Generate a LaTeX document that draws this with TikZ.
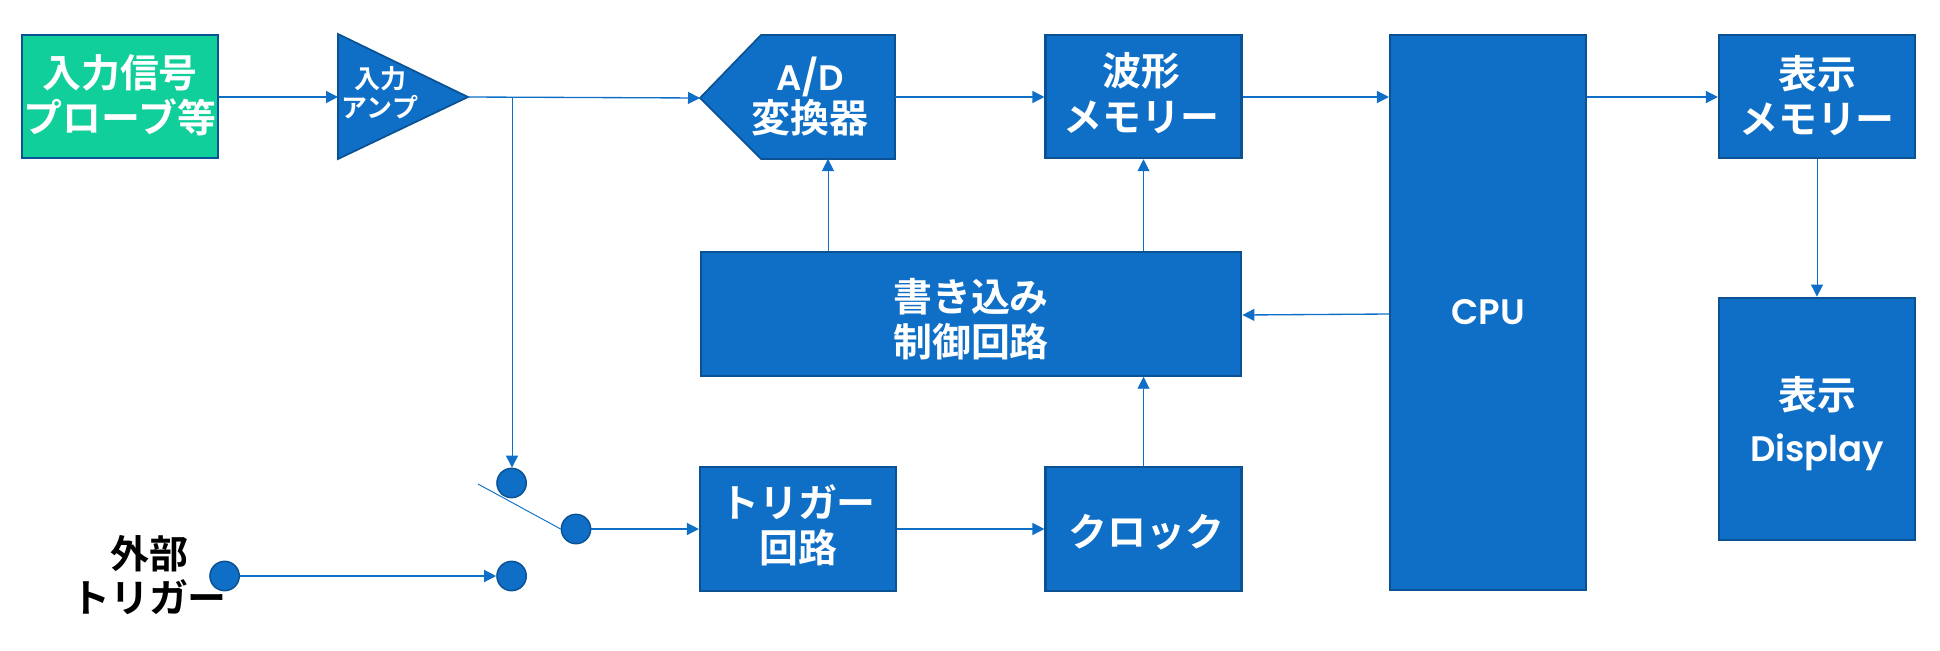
\documentclass[tikz,border=0pt]{standalone}
\usepackage{fontspec}
\setmainfont{Noto Sans CJK JP}[BoldFont={Noto Sans CJK JP Bold}]
\newfontfamily\latn{Poppins}[Scale=0.91,BoldFont={Poppins SemiBold}]
\usetikzlibrary{arrows.meta,calc}
\definecolor{blk}{HTML}{0F6FC6}
\definecolor{edg}{HTML}{0B5294}
\definecolor{grn}{HTML}{10CF9B}
\tikzset{
  x=0.75pt,y=-0.75pt,
  bx/.style={draw=edg,fill=blk,line width=1.6pt,inner sep=0pt},
  shp/.style={draw=edg,fill=blk,line width=1.3pt,line join=miter},
  lbl/.style={text=white,align=center,inner sep=0pt,font=\fontsize{29.2}{33.5}\selectfont\bfseries},
  dot/.style={circle,draw=edg,fill=blk,line width=1.1pt,minimum size=22pt,inner sep=0pt},
  wire/.style={draw=blk,line width=1pt,-{Triangle[length=9pt,width=9pt]}},
  thin wire/.style={draw=blk,line width=0.7pt,-{Triangle[length=9pt,width=9pt]}},
}
\begin{document}
\begin{tikzpicture}
\useasboundingbox (0,0) rectangle (1940,650);
% boxes
\node[bx,fill=grn,minimum width=147pt,minimum height=92.5pt,label={[lbl,yshift=1pt,xshift=0pt]center:入力信号\\プローブ等}] (inp) at (120,96.5) {};
\node[bx,minimum width=147pt,minimum height=92.5pt,label={[lbl,yshift=2.6pt,xshift=-1.5pt]center:波形\\[1pt]メモリー}] (wave) at (1143.5,96.5) {};
\node[bx,minimum width=147pt,minimum height=416.5pt,label={[lbl]center:{\latn CPU}}] (cpu) at (1488,312.5) {};
\node[bx,minimum width=147pt,minimum height=92.5pt,label={[lbl,yshift=0.7pt]center:表示\\メモリー}] (dmem) at (1817,96.5) {};
\node[bx,minimum width=147pt,minimum height=182pt,label={[lbl,yshift=-3.4pt]center:表示\\[6pt]{\latn Display}}] (disp) at (1817,419) {};
\node[bx,minimum width=405.5pt,minimum height=92.5pt,label={[lbl,yshift=-4pt]center:書き込み\\制御回路}] (wctl) at (971,314) {};
\node[bx,minimum width=147pt,minimum height=92.5pt,label={[lbl,yshift=2.6pt]center:トリガー\\回路}] (trig) at (798,529) {};
\node[bx,minimum width=147pt,minimum height=92.5pt,label={[lbl,yshift=-2.2pt,xshift=2pt]center:クロック}] (clk) at (1143.5,529) {};
% amplifier
\coordinate (ampT) at (338,34);
\coordinate (ampB) at (338,159);
\coordinate (ampO) at (468,97);
\coordinate (ampI) at (338,97);
\draw[shp] (ampT) -- (ampO) -- (ampB) -- cycle;
\node[lbl,font=\fontsize{19.5}{22}\selectfont\bfseries] (amptxt) at (380,92.5) {入力\\アンプ};
% A/D
\coordinate (adV) at (700,98);
\coordinate (adE) at (895,97);
\coordinate (adB) at (828,159);
\draw[shp] (adV) -- (761,35) -- (895,35) -- (895,159) -- (761,159) -- cycle;
\node[lbl] (adtxt) at (810,97) {{\latn A/D}\\[-2pt]変換器};
% switch
\node[dot] (s1) at (511.6,483) {};
\node[dot] (s2) at (576,529) {};
\node[dot] (s3) at (511.6,576) {};
\node[dot] (ext) at (224.6,576) {};
\coordinate (swEnd) at (478,484);
\draw[draw=blk,line width=0.7pt] (swEnd) -- (s2.west);
\node[align=center,inner sep=0pt,text=black,font=\fontsize{29.2}{33.5}\selectfont\bfseries] (exttxt) at (149,575) {外部\\トリガー};
% connectors
\coordinate (branch) at (512,97);
\draw[wire] (inp.east |- ampI) -- (ampI);
\draw[wire] (ampO) -- (adV);
\draw[wire] (adE) -- (wave.west |- adE);
\draw[wire] (wave.east |- ampI) -- (cpu.west |- ampI);
\draw[wire] (cpu.east |- ampI) -- (dmem.west |- ampI);
\draw[thin wire] (dmem.south) -- (disp.north);
\draw[thin wire] (branch) -- (branch |- s1.north);
\draw[thin wire] (adB |- wctl.north) -- (adB);
\draw[thin wire] (wctl.north -| wave.south) -- (wave.south);
\draw[thin wire] (clk.north) -- (clk.north |- wctl.south);
\coordinate (cpuW) at (cpu.west |- 0,314);
\coordinate (ctlE) at (wctl.east |- 0,315);
\draw[wire] (cpuW) -- (ctlE);
\draw[wire] (s2.east) -- (trig.west |- s2.east);
\draw[wire] (trig.east) -- (clk.west);
\draw[wire] (ext.east) -- (s3.west);
\end{tikzpicture}
\end{document}
